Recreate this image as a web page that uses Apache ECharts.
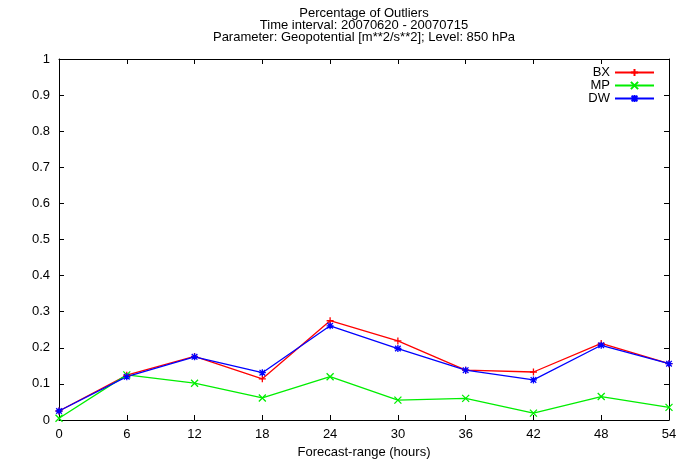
<!DOCTYPE html>
<html>
<head>
<meta charset="utf-8">
<script src="https://cdn.jsdelivr.net/npm/echarts@6/dist/echarts.min.js"></script>
<style>html,body{margin:0;padding:0;background:#fff}#c{width:678px;height:460px}</style>
</head>
<body>
<div id="c"></div>
<script>
const hours = [0, 6, 12, 18, 24, 30, 36, 42, 48, 54];
const bx = [0.025, 0.124, 0.176, 0.114, 0.275, 0.219, 0.138, 0.133, 0.212, 0.156];
const mp = [0.005, 0.125, 0.102, 0.061, 0.120, 0.055, 0.060, 0.019, 0.065, 0.035];
const dw = [0.025, 0.120, 0.175, 0.131, 0.261, 0.198, 0.138, 0.111, 0.207, 0.156];
const titleLines = ['Percentage of Outliers', 'Time interval: 20070620 - 20070715', 'Parameter: Geopotential [m**2/s**2]; Level: 850 hPa'];
const xName = 'Forecast-range (hours)';

const FONT = 'Liberation Sans';
const plus = 'path://M0,-1L0,1M-1,0L1,0';
const cross = 'path://M-1,-1L1,1M-1,1L1,-1';
const star = 'path://M0,-1L0,1M-1,0L1,0M-0.8,-0.8L0.8,0.8M-0.8,0.8L0.8,-0.8';

function mk(name, vals, color, sym) {
  return {
    name: name, type: 'line', data: hours.map((h, i) => [h, vals[i]]),
    symbol: sym, symbolSize: 7, showSymbol: true,
    lineStyle: { color: color, width: 1.3 },
    itemStyle: { color: color, borderColor: color, borderWidth: 1.3 },
    animation: false
  };
}
const axisCommon = {
  axisLine: { show: true, onZero: false, lineStyle: { color: '#000', width: 1 } },
  axisTick: { show: true, inside: true, length: 5, lineStyle: { color: '#000' } },
  splitLine: { show: false }
};
const chart = echarts.init(document.getElementById('c'));
chart.setOption({
  backgroundColor: '#fff',
  animation: false,
  title: {
    text: titleLines.join('\n'), left: 364, textAlign: 'center', top: 7.5, padding: 0,
    textStyle: { fontFamily: FONT, fontSize: 13, fontWeight: 'normal', color: '#000', lineHeight: 12 }
  },
  legend: {
    orient: 'vertical', right: 23, top: 66, align: 'right', padding: 0,
    itemWidth: 39, itemHeight: 9, itemGap: 0,
    textStyle: { fontFamily: FONT, fontSize: 13, color: '#000', lineHeight: 13 },
    data: ['BX', 'MP', 'DW']
  },
  grid: { left: 59, right: 9, top: 59, bottom: 40, containLabel: false, outerBoundsMode: 'none' },
  xAxis: [
    Object.assign({ type: 'value', min: 0, max: 54, interval: 6, position: 'bottom',
      name: xName, nameLocation: 'middle', nameGap: 26,
      nameTextStyle: { fontFamily: FONT, fontSize: 13, color: '#000' },
      axisLabel: { fontFamily: FONT, fontSize: 13, color: '#000', margin: 8 } }, axisCommon),
    Object.assign({ type: 'value', min: 0, max: 54, interval: 6, position: 'top',
      axisLabel: { show: false } }, axisCommon)
  ],
  yAxis: [
    Object.assign({ type: 'value', min: 0, max: 1, interval: 0.1, position: 'left',
      axisLabel: { fontFamily: FONT, fontSize: 13, color: '#000', margin: 9 } }, axisCommon),
    Object.assign({ type: 'value', min: 0, max: 1, interval: 0.1, position: 'right',
      axisLabel: { show: false } }, axisCommon)
  ],
  series: [
    mk('BX', bx, '#ff0000', plus),
    mk('MP', mp, '#00ee00', cross),
    mk('DW', dw, '#0000ff', star)
  ]
});
</script>
</body>
</html>
